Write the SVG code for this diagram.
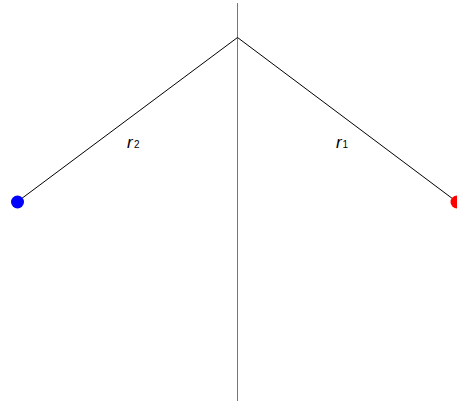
<svg xmlns="http://www.w3.org/2000/svg" width="457" height="401" viewBox="0 0 457 401">
<style>
.ray{stroke:#000;stroke-width:1;fill:none}
.axis{stroke:#00cc00;stroke-width:1;fill:none}
.lbl{font-family:"Liberation Sans",Arial,sans-serif;font-size:17px;font-style:italic;fill:#000}
.sub{font-family:"Liberation Sans",Arial,sans-serif;font-size:10px;font-style:normal;fill:#000}
</style>
<rect width="457" height="401" fill="#fff"/>
<g id="connectors">
<line class="axis" x1="237.5" y1="3" x2="237.5" y2="401"/>
<line class="ray" x1="237.5" y1="37.5" x2="17" y2="202"/>
<line class="ray" x1="237.5" y1="37.5" x2="457" y2="202"/>
</g>
<g id="source2"><circle cx="17.5" cy="202" r="6.5" fill="#0000ff"/></g>
<g id="source1"><circle cx="457" cy="202" r="6.5" fill="#ff0000"/></g>
<g id="label-r2"><text class="lbl" x="127" y="148">r<tspan class="sub" x="134">2</tspan></text></g>
<g id="label-r1"><text class="lbl" x="336" y="148">r<tspan class="sub" x="342.5">1</tspan></text></g>
</svg>
